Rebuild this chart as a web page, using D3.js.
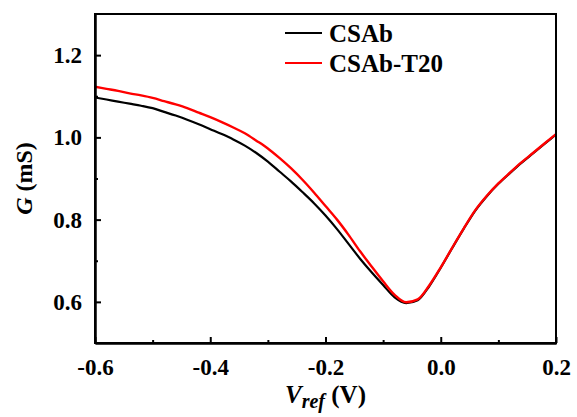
<!DOCTYPE html>
<html>
<head>
<meta charset="utf-8">
<script src="https://cdn.jsdelivr.net/npm/d3@7"></script>
<style>
  body { margin: 0; background: #fff; }
</style>
</head>
<body>
<div id="chart"></div>
<script>
// data
var vref = [-0.60, -0.58, -0.56, -0.54, -0.52, -0.50, -0.48, -0.46, -0.44, -0.42,
            -0.40, -0.38, -0.36, -0.34, -0.32, -0.30, -0.28, -0.26, -0.24, -0.22,
            -0.20, -0.18, -0.16, -0.14, -0.12, -0.10, -0.08, -0.06, -0.04, -0.02,
             0.00,  0.02,  0.04,  0.06,  0.08,  0.10,  0.12,  0.14,  0.16,  0.18, 0.20];
var gCSAb = [1.097, 1.092, 1.087, 1.082, 1.077, 1.071, 1.062, 1.053, 1.043, 1.032,
             1.020, 1.008, 0.995, 0.980, 0.962, 0.941, 0.917, 0.893, 0.867, 0.840,
             0.810, 0.777, 0.741, 0.705, 0.672, 0.641, 0.611, 0.597, 0.604, 0.638,
             0.683, 0.731, 0.778, 0.822, 0.857, 0.887, 0.913, 0.938, 0.961, 0.984, 1.007];
var gT20 = [1.123, 1.118, 1.113, 1.107, 1.102, 1.096, 1.088, 1.080, 1.071, 1.060,
            1.049, 1.037, 1.024, 1.010, 0.992, 0.973, 0.950, 0.925, 0.897, 0.866,
            0.833, 0.800, 0.763, 0.723, 0.686, 0.650, 0.617, 0.599, 0.606, 0.640,
            0.684, 0.732, 0.779, 0.823, 0.858, 0.888, 0.914, 0.939, 0.962, 0.985, 1.008];
var seriesNames = ["CSAb", "CSAb-T20"];
var seriesColors = ["#000000", "#ff0000"];
var xTicks = [-0.6, -0.4, -0.2, 0.0, 0.2];
var xMinor = [-0.5, -0.3, -0.1, 0.1];
var yTicks = [0.6, 0.8, 1.0, 1.2];
var yMinor = [0.7, 0.9, 1.1];

var width = 577, height = 417;
var margin = {left: 95, right: 21, top: 14, bottom: 74};
var serif = "'Liberation Serif', 'Times New Roman', 'DejaVu Serif', serif";

var svg = d3.select("#chart").append("svg")
    .attr("width", width).attr("height", height);

var x = d3.scaleLinear().domain([-0.6, 0.2]).range([margin.left, width - margin.right]);
var y = d3.scaleLinear().domain([0.5, 1.3]).range([height - margin.bottom, margin.top]);

var fmt = function(d) { return d3.format(".1f")(d).replace("\u2212", "-"); };

// curves
var line = d3.line()
    .curve(d3.curveMonotoneX)
    .x(function(d) { return x(d[0]); })
    .y(function(d) { return y(d[1]); });

var series = [gCSAb, gT20];
series.forEach(function(vals, i) {
  svg.append("path")
    .datum(vref.map(function(v, j) { return [v, vals[j]]; }))
    .attr("fill", "none")
    .attr("stroke", seriesColors[i])
    .attr("stroke-width", i == 0 ? 2.2 : 2.4)
    .attr("stroke-linejoin", "round")
    .attr("d", line);
});

// frame
svg.append("rect")
    .attr("x", x(-0.6)).attr("y", y(1.3))
    .attr("width", x(0.2) - x(-0.6)).attr("height", y(0.5) - y(1.3))
    .attr("fill", "none").attr("stroke", "#000").attr("stroke-width", 2);

// axes
svg.append("g")
    .attr("transform", "translate(0," + y(0.5) + ")")
    .call(d3.axisBottom(x).tickValues(xTicks).tickFormat(fmt).tickSizeInner(-6).tickSizeOuter(0).tickPadding(16));
svg.append("g")
    .attr("transform", "translate(0," + y(0.5) + ")")
    .call(d3.axisBottom(x).tickValues(xMinor).tickFormat("").tickSizeInner(-3).tickSizeOuter(0));

svg.append("g")
    .attr("transform", "translate(" + x(-0.6) + ",0)")
    .call(d3.axisLeft(y).tickValues(yTicks).tickFormat(fmt).tickSizeInner(-6).tickSizeOuter(0).tickPadding(13));
svg.append("g")
    .attr("transform", "translate(" + x(-0.6) + ",0)")
    .call(d3.axisLeft(y).tickValues(yMinor).tickFormat("").tickSizeInner(-3).tickSizeOuter(0));

svg.selectAll(".domain").attr("stroke-width", 2);
svg.selectAll(".tick line").attr("stroke-width", 2);
svg.selectAll(".tick text")
    .style("font-size", "23px")
    .attr("fill", "#000");

// axis titles
var xt = svg.append("text")
    .attr("x", (x(-0.6) + x(0.2)) / 2)
    .attr("y", 403)
    .attr("text-anchor", "middle")
    .style("font-size", "25px");
xt.append("tspan").style("font-style", "italic").text("V");
xt.append("tspan").style("font-style", "italic").style("font-size", "20px").attr("dy", 5).text("ref");
xt.append("tspan").attr("dy", -5).text(" (V)");

var yt = svg.append("text")
    .attr("transform", "translate(32," + (y(0.5) + y(1.3)) / 2 + ") rotate(-90)")
    .attr("text-anchor", "middle")
    .style("font-size", "24px");
yt.append("tspan").style("font-style", "italic").text("G");
yt.append("tspan").text(" (mS)");

// legend
seriesNames.forEach(function(name, i) {
  var ly = 33 + i * 30;
  svg.append("line")
    .attr("x1", 285).attr("x2", 322)
    .attr("y1", ly).attr("y2", ly)
    .attr("stroke", seriesColors[i]).attr("stroke-width", 2);
  svg.append("text")
    .attr("x", 329).attr("y", ly + 9)
    .style("font-size", "25px")
    .text(name);
});

svg.selectAll("text")
    .style("font-family", serif)
    .style("font-weight", "bold");
</script>
</body>
</html>
